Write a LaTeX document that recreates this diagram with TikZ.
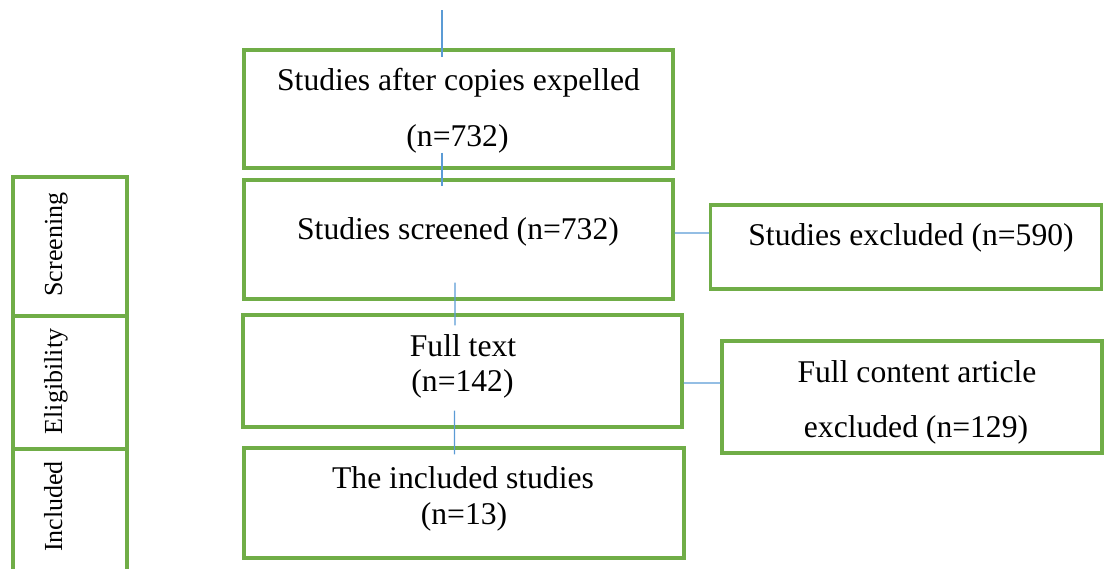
\documentclass[tikz,border=0pt]{standalone}
\usepackage{fontspec}
\setmainfont{Liberation Serif}
\usetikzlibrary{positioning}
\definecolor{boxgreen}{HTML}{70AD47}
\definecolor{linkblue}{HTML}{5B9BD5}

\begin{document}
\begin{tikzpicture}[
  x=0.02cm, y=-0.02cm,
  box/.style={draw=boxgreen, line width=1.9pt, rectangle, inner sep=0pt},
  txt/.style={anchor=base, inner sep=0pt, font=\fontsize{18}{21}\selectfont},
  side/.style={anchor=base, rotate=90, inner sep=0pt, font=\fontsize{14.8}{17}\selectfont},
  link/.style={draw=linkblue, line width=0.75pt}
]
\useasboundingbox (0,0) rectangle (1104,568);

% Stages
\node[box, minimum width=2.28cm, minimum height=2.78cm] (screening) at (70,246.5) {};
\node[box, minimum width=2.28cm, minimum height=2.66cm] (eligibility) at (70,382.5) {};
\node[box, minimum width=2.28cm, minimum height=3.02cm] (includedside) at (70,524.5) {};
\node[side] (screening-t) at (62,244.5) {Screening};
\node[side] (eligibility-t) at (62,381.5) {Eligibility};
\node[side] (includedside-t) at (62,506.5) {Included};

% Boxes
\node[box, minimum width=8.58cm, minimum height=2.36cm] (expelled) at (458.5,109) {};
\node[box, minimum width=8.58cm, minimum height=2.38cm] (screened) at (458.5,239.5) {};
\node[box, minimum width=7.82cm, minimum height=1.68cm] (excluded) at (906,247) {};
\node[box, minimum width=8.78cm, minimum height=2.24cm] (fulltext) at (462.5,371) {};
\node[box, minimum width=7.60cm, minimum height=2.24cm] (contentexcl) at (912,397) {};
\node[box, minimum width=8.80cm, minimum height=2.20cm] (included) at (464,503) {};

% Texts
\node[txt] (expelled-a) at (458.5,90) {Studies after copies expelled};
\node[txt] (expelled-b) at (457.5,146) {(n=732)};
\node[txt] (screened-a) at (458,239) {Studies screened (n=732)};
\node[txt] (excluded-a) at (911,245) {Studies excluded (n=590)};
\node[txt] (fulltext-a) at (463,356) {Full text};
\node[txt] (fulltext-b) at (462.5,391) {(n=142)};
\node[txt] (contentexcl-a) at (917,382) {Full content article};
\node[txt] (contentexcl-b) at (916,437) {excluded (n=129)};
\node[txt] (included-a) at (463,488) {The included studies};
\node[txt] (included-b) at (464,524) {(n=13)};

% Links
\coordinate (feed) at (442,10);
\draw[link] (feed) -- (feed |- expelled.north) -- ++(0,9);
\draw[link] ([xshift=-0.33cm,yshift=0.34cm]expelled.south) -- ([xshift=-0.33cm,yshift=-0.16cm]screened.north);
\draw[link] ([xshift=-0.07cm,yshift=0.36cm]screened.south) -- ([xshift=-0.15cm,yshift=-0.24cm]fulltext.north);
\draw[link] ([xshift=-0.16cm,yshift=0.36cm]fulltext.south) -- ([xshift=-0.19cm,yshift=-0.16cm]included.north);
\draw[link] ([yshift=0.13cm]screened.east) -- ([yshift=0.28cm]excluded.west);
\draw[link] ([yshift=-0.24cm]fulltext.east) -- ([yshift=0.28cm]contentexcl.west);

\end{tikzpicture}
\end{document}
